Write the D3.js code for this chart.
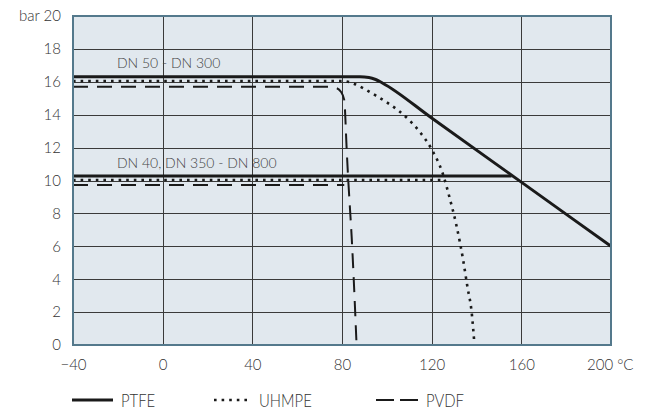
<!DOCTYPE html>
<html><head><meta charset="utf-8">
<script src="https://cdn.jsdelivr.net/npm/d3@7"></script>
<style>
html,body{margin:0;padding:0;background:#fff;}
svg{display:block;}
text{font-family:"Lato","Open Sans",sans-serif;font-weight:300;fill:#333;}
</style></head>
<body>
<svg id="chart" width="646" height="409"></svg>
<script>
// ---- data ----
const xTicks = [-40, 0, 40, 80, 120, 160, 200];
const yTicks = [0, 2, 4, 6, 8, 10, 12, 14, 16, 18, 20];
const xGrid = [0, 40, 80, 120, 160];
const yGrid = [2, 4, 6, 8, 10, 12, 14, 16, 18];

const ptfeUpper = [[-40,16.3],[88,16.3],[92,16.26],[95,16.14],[98,15.93],[120,13.8],[160,9.9],[200,6]];
const ptfeLower = [[-40,10.27],[155.6,10.27]];
const uhmpeUpper = [[-40,16.05],[80,16.05],[85,15.9],[90,15.57],[95,15.17],[100,14.75],[105,14.27],[110,13.67],[115,12.9],[120,11.9],[125,10.4],[128,8.95],[131,7.3],[134,5.2],[136,3.5],[137.8,2.04],[139.1,0]];
const uhmpeLower = [[-40,10.03],[125.3,10.03]];
const pvdfUpper = [[-40,15.7],[74,15.7],[77.5,15.62],[79.5,15.4],[81,14.9],[82.1,11.85],[82.8,10],[83.6,8.2],[84.3,6.6],[85.4,3.5],[86.5,0]];
const pvdfLower = [[-40,9.72],[81,9.72]];

const annotations = [
  {text: "DN 50 - DN 300", t: -20.4, p: 16.83},
  {text: "DN 40, DN 350 - DN 800", t: -20.4, p: 10.76}
];
const legendItems = ["PTFE", "UHMPE", "PVDF"];

// ---- layout ----
const svg = d3.select("#chart");
const x = d3.scaleLinear().domain([-40, 200]).range([73, 611]);
const y = d3.scaleLinear().domain([0, 20]).range([345, 16]);

// plot background
svg.append("rect")
  .attr("x", x(-40)).attr("y", y(20))
  .attr("width", x(200) - x(-40)).attr("height", y(0) - y(20))
  .attr("fill", "#e1e8ee");

// grid
svg.append("g").selectAll("line").data(xGrid).join("line")
  .attr("x1", d => Math.round(x(d)) + 0.5).attr("x2", d => Math.round(x(d)) + 0.5)
  .attr("y1", y(20)).attr("y2", y(0))
  .attr("stroke", "#3a3a3a").attr("stroke-width", 1);
svg.append("g").selectAll("line").data(yGrid).join("line")
  .attr("y1", d => Math.round(y(d)) + 0.5).attr("y2", d => Math.round(y(d)) + 0.5)
  .attr("x1", x(-40)).attr("x2", x(200))
  .attr("stroke", "#3a3a3a").attr("stroke-width", 1);

// annotations
svg.append("g").selectAll("text").data(annotations).join("text")
  .attr("x", d => x(d.t)).attr("y", d => y(d.p))
  .attr("font-size", 14).style("fill", "#444")
  .text(d => d.text);

// series
const line = d3.line().x(d => x(d[0])).y(d => y(d[1])).curve(d3.curveMonotoneX);
const lineLin = d3.line().x(d => x(d[0])).y(d => y(d[1]));
const g = svg.append("g").attr("fill", "none").attr("stroke", "#1a1a1a");
const solid = {w: 3, dash: null};
const dotted = {w: 2.6, dash: "2.6,5"};
const dashed = {w: 2, dash: "15,9"};
function draw(data, st, gen) {
  g.append("path").datum(data).attr("d", gen)
    .attr("stroke-width", st.w)
    .attr("stroke-dasharray", st.dash);
}
draw(ptfeLower, solid, lineLin);
draw(uhmpeLower, dotted, lineLin);
draw(pvdfLower, dashed, lineLin);
draw(ptfeUpper, solid, line);
draw(uhmpeUpper, dotted, line);
draw(pvdfUpper, dashed, line);

// plot border
svg.append("rect")
  .attr("x", x(-40)).attr("y", y(20))
  .attr("width", x(200) - x(-40)).attr("height", y(0) - y(20))
  .attr("fill", "none").attr("stroke", "#54798c").attr("stroke-width", 2);

// axes
const yAxis = svg.append("g").attr("transform", `translate(${x(-40)},0)`)
  .call(d3.axisLeft(y).tickValues(yTicks).tickSize(0).tickPadding(12)
    .tickFormat(d => d === 20 ? "bar 20" : String(d)));
yAxis.select(".domain").remove();
yAxis.attr("font-family", null);
yAxis.selectAll("text").attr("font-size", 15).style("fill", "#333");

const xAxis = svg.append("g").attr("transform", `translate(0,${y(0)})`)
  .call(d3.axisBottom(x).tickValues(xTicks).tickSize(0)
    .tickFormat(d => d === 200 ? "200 °C" : (d < 0 ? "\u2212" + Math.abs(d) : String(d))));
xAxis.select(".domain").remove();
xAxis.attr("font-family", null);
xAxis.selectAll("text").attr("font-size", 15).attr("y", 25).attr("dy", 0).style("fill", "#333");
xAxis.selectAll(".tick").filter(d => d === 200).select("text")
  .attr("text-anchor", "end").attr("x", 22);

// legend
const legX = [72, 214, 376];
const legStyles = [
  {w: 3, dash: null, len: 41},
  {w: 2.6, dash: "2.6,5", len: 37},
  {w: 2, dash: "18,6", len: 42}
];
const leg = svg.append("g");
legendItems.forEach((name, i) => {
  const s = legStyles[i];
  leg.append("line")
    .attr("x1", legX[i]).attr("x2", legX[i] + s.len)
    .attr("y1", 400).attr("y2", 400)
    .attr("stroke", "#1a1a1a").attr("stroke-width", s.w)
    .attr("stroke-dasharray", s.dash);
  leg.append("text")
    .attr("transform", `translate(${legX[i] + s.len + 8},407) scale(0.85,1)`)
    .attr("font-size", 17.5)
    .text(name);
});
</script>
</body></html>
